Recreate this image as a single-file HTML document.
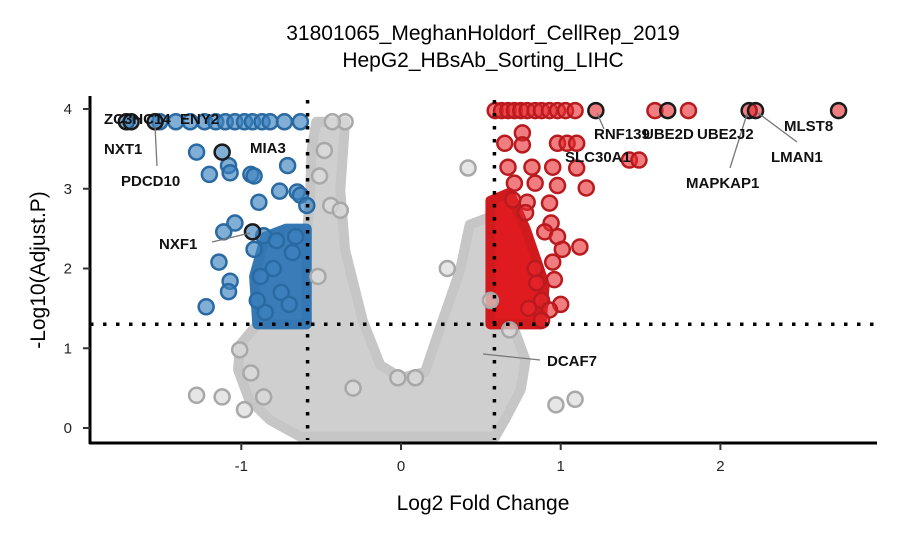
<!DOCTYPE html>
<html><head><meta charset="utf-8"><style>
body{margin:0;background:#fff}
svg{display:block;font-family:"Liberation Sans",sans-serif}
</style></head><body>
<svg id="chart" width="900" height="540">
<text x="483" y="40" text-anchor="middle" font-size="21">31801065_MeghanHoldorf_CellRep_2019</text>
<text x="483" y="67" text-anchor="middle" font-size="21">HepG2_HBsAb_Sorting_LIHC</text>
<text x="483" y="510" text-anchor="middle" font-size="21">Log2 Fold Change</text>
<text transform="translate(45,270) rotate(-90)" text-anchor="middle" font-size="21">-Log10(Adjust.P)</text>
<g id="plot"></g>
</svg>
<script>
const xTicks=[-1,0,1,2];
const yTicks=[0,1,2,3,4];
const fcCut=0.585, pCut=1.301;
const grayEnvelope=[[-0.63,-0.11],[-0.82,0.10],[-0.95,0.35],[-1.02,0.73],[-1.01,1.04],[-0.90,1.30],[-0.70,1.48],[-0.6,2.23],[-0.57,2.86],[-0.56,3.49],[-0.53,3.84],[-0.35,3.84],[-0.38,2.98],[-0.35,2.23],[-0.24,1.35],[-0.13,0.79],[0,0.63],[0.15,0.7],[0.24,1.23],[0.37,1.98],[0.43,2.55],[0.59,2.67],[0.65,1.86],[0.71,1.23],[0.78,0.85],[0.75,0.48],[0.65,0.10],[0.59,-0.11]];
const blueMass=[[-0.9,1.3],[-0.92,1.9],[-0.85,2.4],[-0.72,2.5],[-0.59,2.5],[-0.59,1.3]];
const redMass=[[0.56,1.3],[0.56,2.85],[0.68,2.95],[0.78,2.5],[0.9,1.8],[0.88,1.3]];
const grayX=[0.42,0.29,-0.35,-0.43,-0.48,-0.51,-0.44,-0.38,-1.28,-1.12,-0.98,-1.01,-0.94,-0.86,1.09,0.97,0.68,0.56,0.09,-0.02,-0.52,-0.3];
const grayY=[3.26,2.0,3.84,3.84,3.48,3.16,2.79,2.73,0.41,0.39,0.23,0.98,0.69,0.39,0.36,0.29,1.23,1.6,0.63,0.63,1.9,0.5];
const blueX=[-1.51,-1.41,-1.32,-1.23,-1.16,-1.1,-1.04,-0.98,-0.93,-0.87,-0.82,-0.73,-0.63,-1.28,-1.2,-1.08,-1.07,-0.94,-0.92,-0.71,-0.76,-0.65,-0.63,-0.59,-0.89,-1.04,-1.11,-0.86,-0.92,-1.14,-1.07,-1.08,-1.22,-0.8,-0.75,-0.68,-0.85,-0.7,-0.88,-0.9,-0.78,-0.66];
const blueY=[3.84,3.84,3.84,3.84,3.84,3.84,3.84,3.84,3.84,3.84,3.84,3.84,3.84,3.46,3.18,3.29,3.2,3.18,3.16,3.29,2.97,2.96,2.92,2.79,2.83,2.57,2.46,2.41,2.24,2.08,1.84,1.71,1.52,2.0,1.7,2.2,1.45,1.55,1.9,1.6,2.35,2.4];
const redX=[0.59,0.63,0.67,0.71,0.75,0.79,0.84,0.88,0.93,0.98,1.03,1.09,1.59,1.8,0.65,0.76,0.76,0.98,1.04,1.1,1.43,1.49,0.67,0.82,0.95,1.1,0.71,0.84,0.98,1.16,0.7,0.79,0.93,0.94,0.9,1.12,0.98,1.01,0.95,0.96,0.85,0.88,1.0,0.93,0.8,0.84,0.88,0.78];
const redY=[3.98,3.98,3.98,3.98,3.98,3.98,3.98,3.98,3.98,3.98,3.98,3.98,3.98,3.98,3.57,3.7,3.55,3.57,3.57,3.57,3.36,3.36,3.27,3.27,3.27,3.26,3.07,3.07,3.04,3.01,2.86,2.83,2.82,2.57,2.46,2.27,2.4,2.24,2.08,1.86,1.82,1.6,1.55,1.48,1.5,2.0,1.35,2.7];
const hiX=[-1.72,-1.69,-1.54,-1.12,-0.93,1.22,1.67,2.18,2.22,2.74];
const hiY=[3.84,3.84,3.84,3.46,2.46,3.98,3.98,3.98,3.98,3.98];
const hiCol=["b","b","b","b","b","r","r","r","r","r"];
</script>
<script>
const X=v=>401+v*159.7, Y=v=>428-v*79.75;
const NS="http://www.w3.org/2000/svg";
const g=document.getElementById('plot');
function mk(t,a){const e=document.createElementNS(NS,t);for(const k in a)e.setAttribute(k,a[k]);g.appendChild(e);return e;}
function poly(arr,fill,stroke,name){const e=mk('polygon',{points:arr.map(p=>X(p[0])+','+Y(p[1])).join(' '),fill:fill,stroke:stroke,'stroke-width':10,'stroke-linejoin':'round'});

}
poly(grayEnvelope,'#cfcfcf','#c6c6c6','gray-point-cloud');
poly(blueMass,'#3a7cb8','#3477b2','blue-point-cloud');
poly(redMass,'#e01b1f','#d01a1d','red-point-cloud');
function pts(xs,ys,fill,stroke,name){for(let i=0;i<xs.length;i++){const c=mk('circle',{cx:X(xs[i]),cy:Y(ys[i]),r:7.5,fill:fill,stroke:stroke,'stroke-width':2.5});

}}
pts(grayX,grayY,'rgba(220,220,220,0.7)','#a8a8a8','gray-point');
pts(blueX,blueY,'rgba(60,130,190,0.65)','#2a6aa3','blue-point');
pts(redX,redY,'rgba(230,40,45,0.6)','#b81a1e','red-point');
for(let i=0;i<hiX.length;i++){const c=mk('circle',{cx:X(hiX[i]),cy:Y(hiY[i]),r:7.5,fill:hiCol[i]=='b'?'rgba(60,130,190,0.65)':'rgba(230,40,45,0.6)',stroke:'#1a1a1a','stroke-width':2.5});

}
[[X(-fcCut),100,X(-fcCut),440],[X(fcCut),100,X(fcCut),440],[90,Y(pCut),877,Y(pCut)]].forEach(l=>{const e=mk('line',{x1:l[0],y1:l[1],x2:l[2],y2:l[3],stroke:'#000','stroke-width':3.5,'stroke-dasharray':'3.5 9.5'});

});
let a=mk('line',{x1:89,y1:443,x2:877,y2:443,stroke:'#000','stroke-width':3});


a=mk('line',{x1:90,y1:96,x2:90,y2:444,stroke:'#000','stroke-width':3});


xTicks.forEach(t=>{const l=mk('line',{x1:X(t),y1:443,x2:X(t),y2:450,stroke:'#333','stroke-width':2});


const s=mk('text',{x:X(t),y:471,'text-anchor':'middle','font-size':15,fill:'#222'});s.textContent=t;

});
yTicks.forEach(t=>{const l=mk('line',{x1:83,y1:Y(t),x2:90,y2:Y(t),stroke:'#333','stroke-width':2});


const s=mk('text',{x:72,y:Y(t)+5,'text-anchor':'end','font-size':15,fill:'#222'});s.textContent=t;

});
const labels=[["ZC3HC14",104,124],["ENY2",180,124],["NXT1",104,154],["PDCD10",121,186],["MIA3",250,153],["NXF1",159,249],["RNF139",594,139],["UBE2D",643,139],["UBE2J2",697,139],["SLC30A1",565,162],["MAPKAP1",686,188],["MLST8",784,131],["LMAN1",771,162],["DCAF7",547,366]];
const leaders=[[155,126,157,166],[212,242,250,233],[597,113,604,129],[730,168,747,114],[797,142,758,113],[483,354,540,360]];
leaders.forEach(l=>{const e=mk('line',{x1:l[0],y1:l[1],x2:l[2],y2:l[3],stroke:'#777','stroke-width':1.3});

});
labels.forEach(l=>{const s=mk('text',{x:l[1],y:l[2],'font-size':15,'font-weight':'bold',fill:'#111'});s.textContent=l[0];

});
</script>
</body></html>
